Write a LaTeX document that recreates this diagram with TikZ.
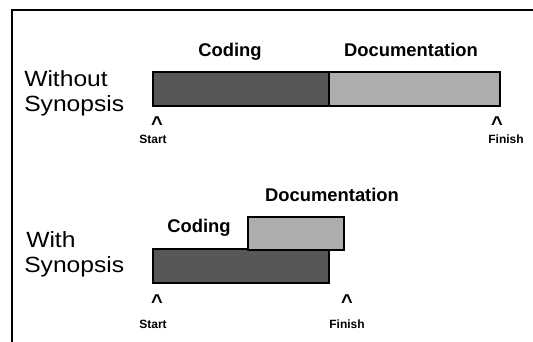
\documentclass[tikz,border=0pt]{standalone}
\usepackage{fontspec}
\setmainfont{Liberation Sans}
\newfontfamily\widesans[FakeStretch=1.12]{Liberation Sans}
\usetikzlibrary{positioning}

\tikzset{
  side/.style={anchor=base west, inner sep=0pt, font=\widesans\fontsize{16.5}{19}\selectfont},
  phase/.style={anchor=base, inner sep=0pt, font=\fontsize{13.8}{16}\selectfont\bfseries},
  tick/.style={anchor=base, inner sep=0pt, font=\fontsize{15}{17}\selectfont\bfseries},
  when/.style={anchor=base, inner sep=0pt, font=\fontsize{9}{11}\selectfont\bfseries},
  codebar/.style={draw=black, line width=2pt, fill=black!66},
  docbar/.style={draw=black, line width=2pt, fill=black!32}
}

\begin{document}
\begin{tikzpicture}[x=0.75pt,y=-0.75pt]

\useasboundingbox (0,0) rectangle (533,342);

% definitions
\coordinate (A1) at (153,72);  \coordinate (B1) at (329,106);
\coordinate (A2) at (329,72);  \coordinate (B2) at (500,106);
\coordinate (A3) at (153,249); \coordinate (B3) at (329,283);
\coordinate (A4) at (248,217); \coordinate (B4) at (344,250);

% drawing
\draw[line width=1.5pt] (12,342) -- (12,10) -- (533,10);
\draw[codebar] (A1) rectangle (B1);
\draw[docbar] (A2) rectangle (B2);
\draw[codebar] (A3) rectangle (B3);
\draw[docbar] (A4) rectangle (B4);

% labels
\node[side] (wo1) at (24,87) {Without};
\node[side] (wo2) at (24,112) {Synopsis};
\node[phase] (cod1) at (230,57) {Coding};
\node[phase] (doc1) at (411,57) {Documentation};
\node[tick] (up1) at (157,131) {\textasciicircum};
\node[tick] (up2) at (497,131) {\textasciicircum};
\node[when] (st1) at (153,144) {Start};
\node[when] (fi1) at (506,144) {Finish};

\node[side] (wi1) at (26,248) {With};
\node[side] (wi2) at (24,273) {Synopsis};
\node[phase] (doc2) at (332,202) {Documentation};
\node[phase] (cod2) at (199,233) {Coding};
\node[tick] (up3) at (157,309) {\textasciicircum};
\node[tick] (up4) at (347,309) {\textasciicircum};
\node[when] (st2) at (153,329) {Start};
\node[when] (fi2) at (347,329) {Finish};

\end{tikzpicture}
\end{document}
